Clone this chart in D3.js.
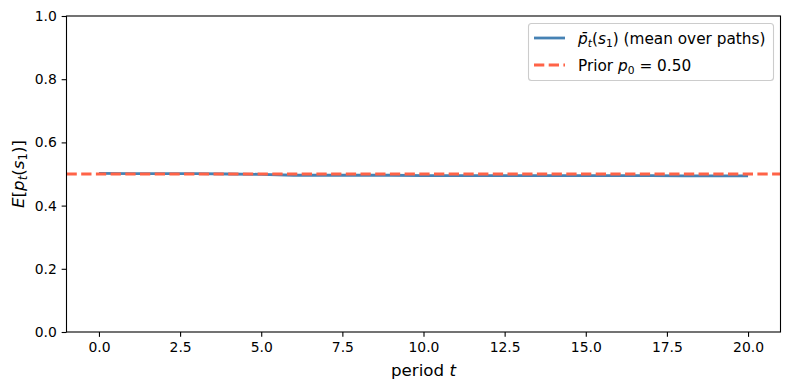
<!DOCTYPE html>
<html>
<head>
<meta charset="utf-8">
<script src="https://cdn.jsdelivr.net/npm/d3@7"></script>
<style>
  html, body { margin: 0; padding: 0; background: #fff; }
  svg { display: block; font-family: "DejaVu Sans", sans-serif; }
</style>
</head>
<body>
<svg id="chart" width="790" height="390"></svg>
<script>
// ---- data ----
const periods = [0,1,2,3,4,5,6,7,8,9,10,11,12,13,14,15,16,17,18,19,20];
const meanBelief = [0.502,0.501,0.501,0.501,0.500,0.499,0.496,0.496,0.496,0.496,0.495,
                    0.495,0.495,0.495,0.495,0.495,0.495,0.495,0.494,0.494,0.494];
const prior = 0.50;
const xTicks = [0, 2.5, 5, 7.5, 10, 12.5, 15, 17.5, 20];
const yTicks = [0, 0.2, 0.4, 0.6, 0.8, 1.0];

const svg = d3.select("#chart");
const L = 66.5, R = 780.5, T = 16, B = 332;
const x = d3.scaleLinear().domain([-1, 21]).range([L, R]);
const y = d3.scaleLinear().domain([0, 1]).range([B, T]);

const blue = "#4682b4", red = "#ff6347";
const lw = 2.78;

// prior line
svg.append("line")
  .attr("x1", L).attr("x2", R)
  .attr("y1", y(prior)).attr("y2", y(prior))
  .attr("stroke", red).attr("stroke-width", lw)
  .attr("stroke-dasharray", "10.3,4.4");

// mean line
svg.append("path")
  .datum(periods.map((t, i) => [t, meanBelief[i]]))
  .attr("fill", "none").attr("stroke", blue).attr("stroke-width", lw)
  .attr("stroke-linejoin", "round")
  .attr("d", d3.line().x(d => x(d[0])).y(d => y(d[1])));

// redraw prior on top? (matplotlib draws in order: mean first then prior)
svg.select("line").raise();

// axes
const xAxis = d3.axisBottom(x).tickValues(xTicks).tickSize(4.86).tickPadding(4.86)
  .tickFormat(d3.format(".1f"));
const yAxis = d3.axisLeft(y).tickValues(yTicks).tickSize(4.86).tickPadding(4.86)
  .tickFormat(d3.format(".1f"));

const gx = svg.append("g").attr("transform", `translate(0,${B})`).call(xAxis);
const gy = svg.append("g").attr("transform", `translate(${L},0)`).call(yAxis);
[gx, gy].forEach(g => {
  g.select(".domain").remove();
  g.selectAll(".tick line").attr("stroke", "#000").attr("stroke-width", 1.1);
  g.selectAll(".tick text").attr("font-size", "13.9px").attr("fill", "#000")
    .attr("font-family", "DejaVu Sans");
});

// spines
svg.append("rect").attr("x", L).attr("y", T).attr("width", R - L).attr("height", B - T)
  .attr("fill", "none").attr("stroke", "#000").attr("stroke-width", 1.1);

// axis labels
const xl = svg.append("text").attr("x", (L + R) / 2).attr("y", 376)
  .attr("text-anchor", "middle").attr("font-size", "16.7px");
xl.append("tspan").text("period ");
xl.append("tspan").attr("font-style", "italic").text("t");

const yl = svg.append("text")
  .attr("transform", `translate(24,${(T + B) / 2}) rotate(-90)`)
  .attr("text-anchor", "middle").attr("font-size", "16.7px");
yl.append("tspan").attr("font-style", "italic").text("E");
yl.append("tspan").text("[");
yl.append("tspan").attr("font-style", "italic").text("p");
yl.append("tspan").attr("font-style", "italic").attr("font-size", "11.7px").attr("dy", 3).text("t");
yl.append("tspan").attr("dy", -3).text("(");
yl.append("tspan").attr("font-style", "italic").text("s");
yl.append("tspan").attr("font-size", "11.7px").attr("dy", 3).text("1");
yl.append("tspan").attr("dy", -3).text(")]");

// legend
const lg = svg.append("g");
lg.append("rect").attr("x", 528.5).attr("y", 23.5).attr("width", 245).attr("height", 57)
  .attr("rx", 3).attr("fill", "rgba(255,255,255,0.8)")
  .attr("stroke", "#cccccc").attr("stroke-width", 1.1);
const fs = 15.3;
const hx0 = 534, hx1 = 565, tx = 578;
const r1 = 38, r2 = 65;
lg.append("line").attr("x1", hx0).attr("x2", hx1).attr("y1", r1).attr("y2", r1)
  .attr("stroke", blue).attr("stroke-width", lw);
lg.append("line").attr("x1", hx0).attr("x2", hx1).attr("y1", r2).attr("y2", r2)
  .attr("stroke", red).attr("stroke-width", lw).attr("stroke-dasharray", "10.3,4.4");

const t1 = lg.append("text").attr("x", tx).attr("y", r1 + 5.5).attr("font-size", fs + "px");
t1.append("tspan").attr("font-style", "italic").text("p\u0304");
t1.append("tspan").attr("font-style", "italic").attr("font-size", "10.7px").attr("dy", 3).text("t");
t1.append("tspan").attr("dy", -3).text("(");
t1.append("tspan").attr("font-style", "italic").text("s");
t1.append("tspan").attr("font-size", "10.7px").attr("dy", 3).text("1");
t1.append("tspan").attr("dy", -3).text(") (mean over paths)");

const t2 = lg.append("text").attr("x", tx).attr("y", r2 + 5.5).attr("font-size", fs + "px");
t2.append("tspan").text("Prior ");
t2.append("tspan").attr("font-style", "italic").text("p");
t2.append("tspan").attr("font-size", "10.7px").attr("dy", 3).text("0");
t2.append("tspan").attr("dy", -3).text(" = 0.50");
</script>
</body>
</html>
